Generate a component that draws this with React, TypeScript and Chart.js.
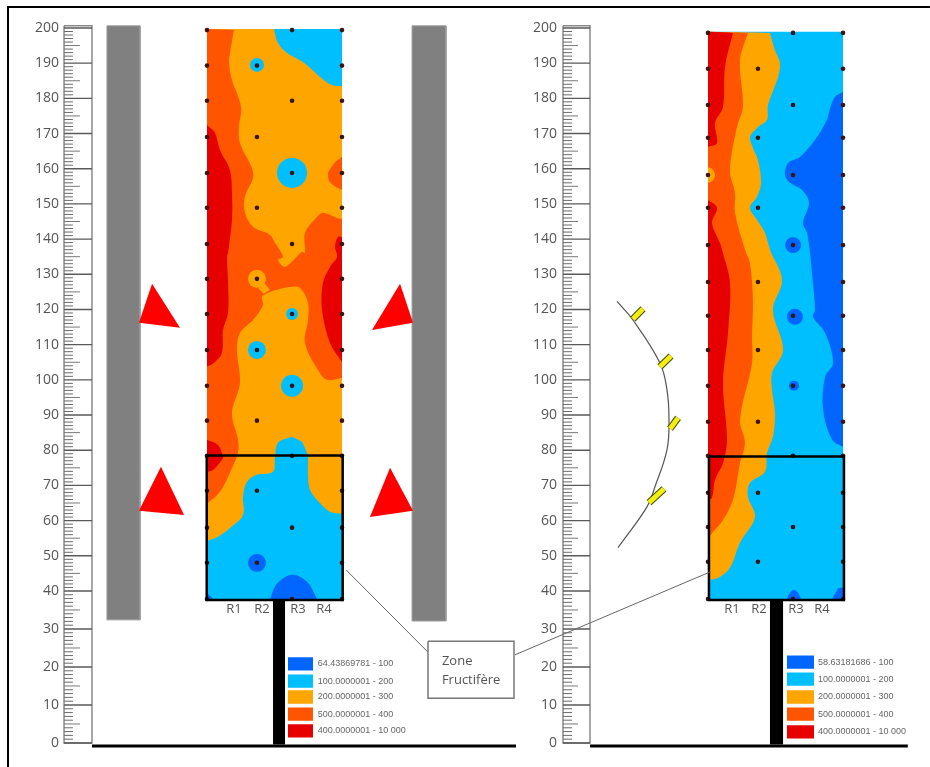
import React, { useEffect, useRef } from "react";
import { Chart, LinearScale, registerables } from "chart.js";

// ---------- axes ----------
const yTicks = [0,10,20,30,40,50,60,70,80,90,100,110,120,130,140,150,160,170,180,190,200];
const yMin = -6.32, yMax = 207.95, yKnee = 40;
const kneeDecimal = 0.2295;
const xLRange = [-153.33, 535.55];
const xRRange = [-524.44, 164.44];

// ---------- sampling grid ----------
const rowsLeft = [199.4,189.3,179.3,169,158.8,148.9,138.6,128.7,118.7,108.5,98.3,88.4,78.4,68.5,58,48,37.9];
const rowsRight = [198.6,188.4,178.1,168.8,158.2,148.9,138.3,127.8,118.2,108.5,98.3,88.1,78.4,67.9,58.2,48.3,37.9];
const columnEdges = [0, 100];
const columnR2 = 37, columnR3 = 63;

// ---------- left panel contours ----------
const leftBase = [[0,199.7],[100,199.7],[100,37.6],[0,37.6]];
const leftOrangeRed = [[0,199.7],[20,199.4],[17,192.9],[16.3,190.1],[18.5,185.2],[25.2,177.6],[23.7,171.9],[24.4,167.3],[33.3,160.2],[34.1,157.4],[28.1,152],[28.1,147.5],[34.1,143.5],[46.7,141.2],[50.4,138.9],[56.3,135],[52.6,134.1],[57.8,132.1],[70.4,136.4],[72.6,136.1],[72.6,141.8],[81.5,146.3],[85.9,147.5],[96.3,146],[100,145.7],[100,100.6],[88.9,100],[82.2,102.8],[72.6,110.5],[74.8,117],[74.8,121.9],[68.9,126.1],[61.5,126.4],[46.7,125],[40.7,123.6],[41.5,121.3],[34.1,117],[24.4,113.3],[22.2,108.5],[24.4,99.1],[18.5,90.6],[23,83],[23,79.5],[17,73.6],[9.6,68.2],[0.7,65],[0,65]];
const leftOrangeRedBlob = [[100,163.3],[94.8,161.8],[90.6,159.6],[89.6,158.8],[90.6,156.5],[94.8,155],[100,154]];
const leftOrangeTail = [[41.5,128],[46.7,125.5],[42,124.5],[38,126]];
const leftRedA = [[0,172.4],[5.9,170.2],[9.6,165.3],[17,159.6],[18.5,153.1],[18.5,145.5],[15.6,136.1],[14.8,135],[15.6,127.6],[15.6,119],[11.9,114.2],[11.1,107.7],[5.9,105.1],[0,103.7]];
const leftRedB = [[100,140.6],[97,140.6],[94.8,137.8],[96.3,135],[91.1,132.1],[85.9,127.6],[85.2,119.9],[91.1,110.5],[100,105.1]];
const leftRedC = [[0,83],[8.1,81.5],[11.9,78.1],[11.1,77.3],[4.4,74.4],[0,73.9]];
const leftCyanTop = [[49.6,199.7],[52.6,195.7],[59.3,192.9],[71.1,190.3],[83.7,186.1],[92.6,183.8],[100,183.5],[100,199.7]];
const leftCyanLow = [[63,83.8],[52.6,82.1],[50.4,78.1],[48.9,73.9],[37,73],[29.6,71],[26.7,66.8],[26.7,61.6],[17,57.9],[8.1,55.4],[0.7,54.3],[0,54.3],[0,37.6],[100,37.6],[100,61.9],[91.1,62.5],[83.7,65],[76.3,68.7],[74.8,73.6],[74.8,78.1],[74.1,79.2],[70.4,82.4]];
const leftBlueBottom = [[46.7,37.9],[51.9,42.1],[63,44.6],[74.1,42.6],[81.5,37.9]];
const leftBlueCorner = [[0,39.5],[4.4,37.9],[0,37.6]];
const leftOrangeSpots = [{ x: 37, y: 128.7, r: 9 }];
const leftCyanSpots = [{ x: 37, y: 189.5, r: 7 },{ x: 63, y: 158.8, r: 15 },{ x: 63, y: 118.7, r: 6 },{ x: 37, y: 108.5, r: 9 },{ x: 63, y: 98.3, r: 11 }];
const leftBlueSpots = [{ x: 37, y: 48, r: 9 }];
const leftBox = [[-0.2,78.5],[100.5,78.5],[100.5,37.6],[-0.2,37.6]];

// ---------- right panel contours ----------
const rightBase = [[0,198.9],[100,198.9],[100,37.6],[0,37.6]];
const rightOrange = [[0,198.9],[45.9,198.6],[49.6,193.7],[53.3,190.1],[51.9,186.1],[44.4,178.1],[43.7,173.9],[36.3,171.6],[31.1,169],[33.3,165.9],[37,162.5],[39.3,156],[36.3,152],[31.1,148.9],[36.3,145.5],[42.2,141.8],[45.9,137],[54.8,128.4],[48.1,119.9],[55.6,108.5],[47.4,102],[47.4,97.2],[49.6,90.6],[48.1,83.8],[43.7,79.2],[42.2,73.9],[31.1,70.7],[29.6,66.8],[34.8,61],[23.7,53.7],[16.3,46.6],[7.4,43.7],[0.7,43.2],[0,43.2]];
const rightOrangeRed = [[0,198.9],[29.6,198.6],[23.7,190.9],[25.9,177.6],[21.5,171.9],[16.3,159.6],[20,153.1],[20,147.5],[27.4,137],[31.1,133.2],[33.3,122.7],[32.6,112.2],[32.6,104.8],[23.7,88.6],[27.4,82.1],[23.7,76.4],[18.5,65.9],[11.1,60.2],[3,56.5],[0.7,55.4],[0,55.4]];
const rightOrangeNotch = [[0,160.4],[3.5,159.8],[5.2,158.2],[3.5,156.6],[0,156]];
const rightRedA = [[0,198.9],[18.5,198.6],[12.6,189],[11.1,177.6],[5.2,173],[6.7,167.3],[0,166.2]];
const rightRedB = [[0,151.1],[6.7,148.9],[3,144.6],[8.9,138.9],[10.4,137],[16.3,127.6],[14.8,113.3],[11.1,99.1],[14.1,83],[11.1,76.4],[5.2,71.6],[3,66.5],[0,65.9]];
const rightBlue = [[100,181.8],[94.1,180.4],[90.4,177.2],[88.1,173.9],[79.3,168.2],[68.1,163.3],[59.3,161.6],[57,158.2],[60.7,156],[69.6,154],[74.8,150.3],[70.4,144.6],[73.3,141.8],[75.6,136.1],[77,130.4],[79.3,119.9],[77.8,117.9],[86.7,113.3],[92.6,104.8],[86.7,100.8],[85.2,91.5],[91.9,83],[100,81]];
const rightBlueBottom = [[58.5,37.9],[60.7,39.5],[63.7,40.3],[66.7,39.5],[68.9,37.9]];
const rightBlueCorner = [[91.9,37.9],[96.3,40.8],[100,41],[100,37.6]];
const rightBlueSpots = [{ x: 63, y: 138.3, r: 8 },{ x: 64.4, y: 117.9, r: 8 },{ x: 63.7, y: 98.3, r: 5 }];
const rightBox = [[0.7,78.2],[100.7,78.2],[100.7,37.6],[0.7,37.6]];

// ---------- site furniture ----------
const leftRuler = { a: -105.9, b: -85.2, mid: -94.1, minor: -99.3 };
const rightRuler = { a: -107.4, b: -87.4, mid: -96.3, minor: -100.7 };
const rulerTop = 200.6;
const barLeftWest = [[-74.1,200.6],[-49.6,200.6],[-49.6,32.4],[-74.1,32.4]];
const barLeftEast = [[151.9,200.6],[177,200.6],[177,32.1],[151.9,32.1]];
const triangles = [
  [[-40.7,127.3],[-50.4,116.2],[-20,114.8]],
  [[143,127.3],[122.2,114.2],[152.6,116.2]],
  [[-34.1,75.3],[-50.4,62.8],[-17,61.6]],
  [[135.6,75],[120.7,61],[152.6,62.8]],
];
const poleLeft = [[48.9,37.6],[57.8,37.6],[57.8,-0.4],[48.9,-0.4]];
const poleRight = [[45.9,37.6],[55.6,37.6],[55.6,-0.4],[45.9,-0.4]];
const groundLeft = [[-85.2,-0.8],[228.9,-0.8]];
const groundRight = [[-87.4,-0.8],[148,-0.8]];
const frame = [[535.5,205.95],[-147.4,205.95],[-147.4,-6.3]];
const curve = [[-67.4,122.3],[-55.6,117],[-35.6,104.8],[-30.4,97.2],[-28.9,88.6],[-30.4,80.1],[-39.3,69.6],[-45.2,63.9],[-66.7,52.3]];
const yellowMarks = [
  [[-55.6,117.3],[-48.1,120.2]],
  [[-35.6,103.7],[-27.4,106.8]],
  [[-28.1,86.1],[-22.2,89.2]],
  [[-43.7,65.1],[-32.6,69]],
];
const calloutBox = [[163.7,26.8],[227.4,26.8],[227.4,11.8],[163.7,11.8]];
const connectorLeft = [[103,46],[163.7,23.9]];
const connectorRight = [[-143,23.2],[1.5,45.4]];

// ---------- text ----------
const rowLabels = ["R1", "R2", "R3", "R4"];
const rowLabelXLeft = [20, 40.7, 67.4, 86.7];
const rowLabelXRight = [17.8, 37.8, 65.2, 84.4];
const rowLabelY = 35.3;
const legendColors = ["#0066FF", "#00BFFF", "#FFA500", "#FF5500", "#E60000"];
const legendLabelsLeft = ["64.43869781 - 100", "100.0000001 - 200", "200.0000001 - 300", "500.0000001 - 400", "400.0000001 - 10 000"];
const legendLabelsRight = ["58.63181686 - 100", "100.0000001 - 200", "200.0000001 - 300", "500.0000001 - 400", "400.0000001 - 10 000"];
const legendYLeft = [20.8, 16.3, 12.1, 7.6, 3.2];
const legendYRight = [21.3, 16.8, 12.1, 7.6, 2.9];
const calloutLines = [{ text: "Zone", x: 174, y: 21.4 }, { text: "Fructifère", x: 174, y: 16.4 }];

const [BLUE, CYAN, ORANGE, ORANGERED, RED] = legendColors;

class RuledScale extends LinearScale {
  static id = "ruled";
  static defaults = LinearScale.defaults;
  getPadding() {
    return { left: 0, top: 0, right: 0, bottom: 0 };
  }
  getPixelForValue(v: number) {
    const d = v >= yKnee
      ? kneeDecimal + ((v - yKnee) * (1 - kneeDecimal)) / (yMax - yKnee)
      : (kneeDecimal * (v - yMin)) / (yKnee - yMin);
    return this.getPixelForDecimal(d);
  }
}
Chart.register(...registerables, RuledScale);

type Side = "L" | "R";
const toPts = (p: number[][]) => p.map(([x, y]) => ({ x, y }));
const axes = (s: Side) => ({ xAxisID: "x" + s, yAxisID: "y" + s });
const poly = (p: number[][], color: string, s: Side, border?: { c: string; w: number }) => ({
  ...axes(s), data: toPts(border ? [...p, p[0]] : p), showLine: true, fill: "shape",
  backgroundColor: color, borderColor: border ? border.c : color, borderWidth: border ? border.w : 0, pointRadius: 0,
});
// points on the panel's border are doubled so the smoothing keeps those corners sharp
const onBorder = ([x, y]: number[]) => x <= 0.7 || x >= 100 || y <= 38 || y >= 198;
const contour = (p: number[][], color: string, s: Side) => ({
  ...poly(p.flatMap((q) => (onBorder(q) ? [q, q] : [q])), color, s), tension: 0.35,
});
const line = (p: number[][], color: string, width: number, s: Side, extra: object = {}) => ({
  ...axes(s), data: toPts(p), showLine: true, fill: false, borderColor: color, borderWidth: width, pointRadius: 0, ...extra,
});
const spots = (p: { x: number; y: number; r: number }[], color: string, s: Side) => ({
  ...axes(s), data: p.map(({ x, y }) => ({ x, y })), showLine: false, pointRadius: p.map((d) => d.r),
  pointBackgroundColor: color, pointBorderWidth: 0,
});
const dots = (rows: number[], s: Side) => {
  const pts: { x: number; y: number }[] = [];
  rows.forEach((y, i) => {
    columnEdges.forEach((x) => pts.push({ x, y }));
    pts.push({ x: i % 2 ? columnR2 : columnR3, y });
  });
  return { ...axes(s), data: pts, showLine: false, pointRadius: 2.3, pointBackgroundColor: "#3a1515", pointBorderWidth: 0 };
};
const ladder = (xa: number, xb: number, ys: number[]) =>
  ys.flatMap((y) => [{ x: xa, y }, { x: xb, y }, { x: null, y: null }]);
const rulerSets = (r: { a: number; b: number; mid: number; minor: number }, s: Side) => {
  const minors: number[] = [];
  for (let v = 0; v < 200; v++) if (v % 5) minors.push(v);
  return [
    poly([[r.a, rulerTop], [r.b, rulerTop], [r.b, 0], [r.a, 0]], "#ffffff", s, { c: "#8a8a8a", w: 1.5 }),
    { ...axes(s), data: ladder(r.a, r.minor, minors), showLine: true, spanGaps: false, borderColor: "#6a6a6a", borderWidth: 1, pointRadius: 0 },
    { ...axes(s), data: ladder(r.a, r.mid, yTicks.slice(0, -1).map((v) => v + 5)), showLine: true, spanGaps: false, borderColor: "#777777", borderWidth: 1, pointRadius: 0 },
    { ...axes(s), data: ladder(r.a, r.b, yTicks), showLine: true, spanGaps: false, borderColor: "#5a5a5a", borderWidth: 1.4, pointRadius: 0 },
  ];
};
const legendSets = (ys: number[], xa: number, xb: number, s: Side) =>
  ys.map((y, i) => poly([[xa, y + 1.75], [xb, y + 1.75], [xb, y - 1.75], [xa, y - 1.75]], legendColors[i], s));

const textPlugin = {
  id: "panelText",
  afterDraw(chart: any) {
    const { ctx, scales } = chart;
    const put = (t: string, x: number, y: number, s: Side, font: string, color: string, align: CanvasTextAlign) => {
      ctx.save();
      ctx.font = font;
      ctx.fillStyle = color;
      ctx.textAlign = align;
      ctx.textBaseline = "middle";
      ctx.fillText(t, scales["x" + s].getPixelForValue(x), scales["y" + s].getPixelForValue(y));
      ctx.restore();
    };
    const rFont = '13px "Open Sans"';
    rowLabels.forEach((t, i) => {
      put(t, rowLabelXLeft[i], rowLabelY, "L", rFont, "#555555", "center");
      put(t, rowLabelXRight[i], rowLabelY, "R", rFont, "#555555", "center");
    });
    const lFont = '9px "Liberation Sans"';
    legendLabelsLeft.forEach((t, i) => put(t, 82, legendYLeft[i], "L", lFont, "#666666", "left"));
    legendLabelsRight.forEach((t, i) => put(t, 81.5, legendYRight[i], "R", lFont, "#666666", "left"));
    calloutLines.forEach((l) => put(l.text, l.x, l.y, "L", '13px "Open Sans"', "#555555", "left"));
  },
};

const yAxis = (xId: string, at: number) => ({
  type: "ruled", min: yMin, max: yMax, position: { [xId]: at },
  afterBuildTicks: (s: any) => { s.ticks = yTicks.map((value) => ({ value })); },
  grid: { display: false }, border: { display: false },
  ticks: { color: "#555555", padding: 0, autoSkip: false, font: { family: "Open Sans", size: 14 }, callback: (v: number) => String(v) },
});

export default function App() {
  const ref = useRef<HTMLCanvasElement>(null);
  useEffect(() => {
    const painter: any[] = [
      line(frame, "#000000", 2, "L"),
      ...rulerSets(leftRuler, "L"),
      ...rulerSets(rightRuler, "R"),
      poly(barLeftWest, "#808080", "L", { c: "#9a9a9a", w: 1 }),
      poly(barLeftEast, "#808080", "L", { c: "#9a9a9a", w: 1 }),
      ...triangles.map((t) => poly(t, "#FF0000", "L")),
      // left panel
      poly(leftBase, ORANGE, "L"),
      contour(leftOrangeRed, ORANGERED, "L"),
      contour(leftOrangeRedBlob, ORANGERED, "L"),
      spots(leftOrangeSpots, ORANGE, "L"),
      poly(leftOrangeTail, ORANGE, "L"),
      contour(leftRedA, RED, "L"),
      contour(leftRedB, RED, "L"),
      contour(leftRedC, RED, "L"),
      contour(leftCyanTop, CYAN, "L"),
      contour(leftCyanLow, CYAN, "L"),
      spots(leftCyanSpots, CYAN, "L"),
      contour(leftBlueBottom, BLUE, "L"),
      poly(leftBlueCorner, BLUE, "L"),
      spots(leftBlueSpots, BLUE, "L"),
      dots(rowsLeft, "L"),
      // right panel
      poly(rightBase, CYAN, "R"),
      contour(rightBlue, BLUE, "R"),
      spots(rightBlueSpots, BLUE, "R"),
      contour(rightBlueBottom, BLUE, "R"),
      poly(rightBlueCorner, BLUE, "R"),
      contour(rightOrange, ORANGE, "R"),
      contour(rightOrangeRed, ORANGERED, "R"),
      contour(rightOrangeNotch, ORANGE, "R"),
      contour(rightRedA, RED, "R"),
      contour(rightRedB, RED, "R"),
      dots(rowsRight, "R"),
      // structures
      poly(poleLeft, "#000000", "L"),
      poly(poleRight, "#000000", "R"),
      line(groundLeft, "#000000", 3, "L"),
      line(groundRight, "#000000", 3, "R"),
      line([...leftBox, leftBox[0]], "#000000", 2.5, "L"),
      line([...rightBox, rightBox[0]], "#000000", 2.5, "R"),
      line(curve, "#555555", 1.2, "R", { tension: 0.4 }),
      ...yellowMarks.map((m) => line(m, "#44440a", 7, "R")),
      ...yellowMarks.map((m) => line(m, "#F2EE10", 5, "R")),
      line(connectorLeft, "#666666", 1, "L"),
      line(connectorRight, "#666666", 1, "R"),
      poly(calloutBox, "#ffffff", "L", { c: "#777777", w: 1.5 }),
      ...legendSets(legendYLeft, 60, 78.5, "L"),
      ...legendSets(legendYRight, 58.5, 78.5, "R"),
    ];
    const n = painter.length;
    const datasets = painter.map((d, i) => ({ ...d, order: n - i }));
    const chart = new Chart(ref.current!, {
      type: "scatter",
      data: { datasets },
      plugins: [textPlugin],
      options: {
        animation: false,
        responsive: false,
        events: [],
        layout: { padding: 0, autoPadding: false },
        plugins: { legend: { display: false }, tooltip: { enabled: false } },
        scales: {
          xL: { type: "linear", display: false, min: xLRange[0], max: xLRange[1] },
          xR: { type: "linear", display: false, min: xRRange[0], max: xRRange[1] },
          yL: yAxis("xL", -109.6),
          yR: yAxis("xR", -111.9),
        },
      },
    } as any);
    return () => chart.destroy();
  }, []);
  return (
    <div style={{ position: "absolute", left: 0, top: 0, width: 930, height: 767 }}>
      <canvas ref={ref} width={930} height={767} style={{ display: "block", filter: "blur(0.5px)" }} />
    </div>
  );
}
